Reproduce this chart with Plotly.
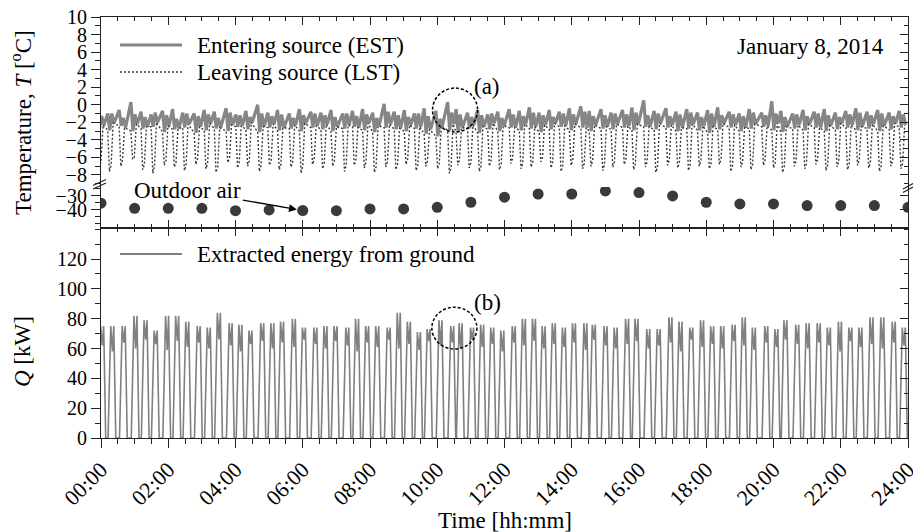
import plotly.graph_objects as go

# ---------------- data ----------------
# Heat-pump cycles: time of each pulse peak [h]
cycle_peak_h = [0.02, 0.32, 0.66, 1.01, 1.31, 1.61, 1.95, 2.25, 2.55, 2.89, 3.19, 3.49, 3.84, 4.13, 4.43, 4.78, 5.08, 5.37, 5.72, 6.02, 6.36,
                6.66, 6.96, 7.31, 7.60, 7.90, 8.20, 8.54, 8.84, 9.14, 9.44, 9.73, 10.08, 10.43, 10.68, 11.02, 11.32, 11.62, 11.92, 12.26, 12.56,
                12.86, 13.15, 13.45, 13.75, 14.05, 14.39, 14.64, 14.99, 15.29,
                15.63, 15.91, 16.26, 16.57, 16.92, 17.22, 17.54, 17.86, 18.16, 18.46, 18.80, 19.10, 19.40, 19.77, 20.07, 20.34, 20.69, 21.00,
                21.33, 21.63, 21.96, 22.27, 22.57, 22.90, 23.22, 23.56, 23.86]

# Extracted energy: peak and dip of each pulse [kW]
q_peak = [75, 75, 75, 82, 79, 72, 82, 82, 78, 75, 74, 84, 77, 76, 72, 77, 77, 78, 80, 74, 74,
          75, 75, 74, 80, 75, 75, 74, 84, 78, 71, 73, 79, 75, 77, 74, 76, 74, 72, 75, 80, 80, 75, 77, 74, 77, 77, 76, 75, 74,
          80, 80, 73, 73, 81, 78, 74, 79, 75, 75, 76, 81, 74, 75, 73, 79, 76, 77, 77, 74, 78, 74, 74, 81, 81, 78, 74]
q_dip = [62, 58, 64, 60, 66, 63, 59, 65, 61, 64, 60, 66, 62, 58, 63, 65, 60, 64, 61, 66, 63,
         60, 65, 62, 58, 64, 61, 66, 60, 63, 59, 65, 62, 64, 60, 66, 61, 63, 58, 64, 62, 65, 60, 63, 61, 64, 59, 66, 62, 60,
         63, 65, 60, 62, 64, 58, 66, 61, 63, 60, 65, 62, 59, 64, 61, 66, 63, 60, 64, 62, 58, 65, 61, 63, 60, 64, 62]

# Entering source temperature: four readings per cycle [degC]
est_a = [-0.9, -1.0, -0.6, 0.3, -0.8, -1.1, -0.7, -0.5, -0.9, -1.0, -0.6, -0.8, -0.4, -1.1, -0.7, 0.0, -0.9, -0.6, -1.0, -0.5, -0.8,
         -0.9, -0.6, -1.0, -0.7, -0.5, -0.9, 0.1, -0.8, -0.6, -1.0, -0.4, -0.7, 0.3, -0.5, -0.9, -0.6, -1.1, -0.8, -0.5, -0.7, -0.3,
         -0.9, -0.6, -0.8, -0.4, -0.2, -0.7, -0.5, -0.9,
         -0.6, -0.3, 0.5, -0.7, -0.4, -0.8, -0.5, -0.9, -0.6, -0.3, -0.8, -1.0, -0.5, -0.9, 0.4, -0.7, -1.0, -0.6, -0.8, -0.5, -0.9,
         -0.7, -0.4, -0.8, -0.6, -0.9, -0.7]
est_b = [-2.6, -2.9, -2.4, -3.0, -2.7, -2.5, -3.1, -2.8, -2.6, -3.2, -2.9, -2.7, -3.0, -2.5, -2.8, -3.1, -2.6, -2.9, -2.7, -3.0, -2.6,
         -2.8, -3.0, -2.7, -2.5, -2.9, -3.1, -2.6, -2.8, -3.0, -2.7, -3.3, -3.6, -2.9, -3.1, -2.7, -3.2, -2.8, -3.0, -2.6, -2.9, -2.7,
         -3.1, -2.8, -2.5, -2.9, -2.6, -3.0, -2.7, -2.8,
         -2.6, -2.9, -2.5, -2.8, -2.6, -3.0, -2.7, -2.9, -3.2, -2.8, -2.6, -3.0, -2.7, -2.5, -2.9, -3.1, -2.7, -2.9, -2.6, -3.0, -2.8,
         -2.6, -2.9, -2.7, -3.0, -2.8, -2.6]
est_c = [-1.3, -1.0, -1.5, -1.1, -1.4, -0.9, -1.2, -1.6, -1.0, -1.3, -1.1, -1.5, -0.9, -1.2, -1.4, -1.0, -1.3, -1.1, -1.5, -1.2, -1.0,
         -1.2, -1.4, -1.0, -1.3, -1.1, -1.5, -0.8, -1.2, -1.4, -1.0, -1.3, -1.6, -0.9, -1.1, -1.4, -1.2, -1.0, -1.5, -1.1, -1.3, -0.9,
         -1.2, -1.4, -1.0, -1.1, -0.8, -1.3, -1.2, -1.0,
         -1.1, -0.9, -1.2, -1.0, -1.3, -1.1, -0.9, -1.4, -1.0, -1.2, -1.1, -1.3, -0.9, -1.2, -1.0, -1.4, -1.1, -1.3, -1.0, -1.2, -1.4,
         -1.1, -0.9, -1.2, -1.0, -1.3, -1.1]
est_d = [-2.3, -2.1, -2.6, -2.2, -2.5, -2.0, -2.4, -2.7, -2.2, -2.5, -2.1, -2.6, -2.3, -2.4, -2.0, -2.5, -2.2, -2.6, -2.3, -2.1, -2.4,
         -2.2, -2.5, -2.3, -2.6, -2.1, -2.4, -2.2, -2.7, -2.3, -2.5, -2.8, -2.4, -2.2, -2.6, -2.3, -2.5, -2.1, -2.4, -2.6, -2.2, -2.5,
         -2.3, -2.1, -2.4, -2.2, -2.6, -2.3, -2.5, -2.2,
         -2.4, -2.2, -2.5, -2.1, -2.3, -2.6, -2.2, -2.4, -2.5, -2.1, -2.3, -2.6, -2.2, -2.4, -2.1, -2.5, -2.3, -2.2, -2.6, -2.4, -2.1,
         -2.3, -2.5, -2.2, -2.4, -2.1, -2.3]

# Leaving source temperature: two lowest readings per cycle [degC]
lst_min = [-7.2, -7.6, -7.0, -6.2, -7.4, -7.8, -6.9, -7.1, -7.5, -6.8, -7.3, -7.7, -6.6, -7.2, -7.0, -7.6, -6.9, -7.4, -7.1, -7.8, -6.8,
           -7.3, -7.0, -7.6, -6.9, -7.2, -7.7, -7.1, -7.4, -6.8, -7.5, -7.0, -7.3, -7.8, -6.9, -7.2, -7.6, -7.0, -7.4, -6.7, -7.3, -7.1,
           -6.5, -7.2, -7.6, -6.9, -7.3, -7.0, -7.5, -7.1,
           -6.8, -7.4, -7.1, -7.7, -6.9, -7.2, -7.5, -7.0, -7.3, -6.8, -7.6, -7.1, -7.4, -6.9, -7.2, -7.7, -7.0, -7.3, -6.8, -7.5, -7.1,
           -7.4, -6.9, -7.2, -7.6, -7.0, -7.3]
lst_min2 = [-6.5, -6.9, -6.3, -6.0, -6.8, -7.0, -6.4, -6.6, -6.9, -6.2, -6.7, -7.1, -6.1, -6.6, -6.4, -6.9, -6.3, -6.8, -6.5, -7.0, -6.2,
            -6.7, -6.4, -6.9, -6.3, -6.6, -7.1, -6.5, -6.8, -6.2, -6.9, -6.4, -6.7, -7.2, -6.3, -6.6, -7.0, -6.4, -6.8, -6.1, -6.7, -6.5,
            -6.0, -6.6, -7.0, -6.3, -6.7, -6.4, -6.9, -6.5,
            -6.2, -6.8, -6.5, -7.1, -6.3, -6.6, -6.9, -6.4, -6.7, -6.2, -7.0, -6.5, -6.8, -6.3, -6.6, -7.1, -6.4, -6.7, -6.2, -6.9, -6.5,
            -6.8, -6.3, -6.6, -7.0, -6.4, -6.7]

# Outdoor air temperature, hourly [degC]
outdoor_hour = [0, 1, 2, 3, 4, 5, 6, 7, 8, 9, 10, 11, 12, 13, 14, 15, 16, 17, 18, 19, 20, 21, 22, 23, 24]
outdoor_temp = [-35.2, -38.8, -38.8, -38.8, -40.5, -40.0, -40.4, -40.5, -39.3, -39.3, -38.1, -34.5, -30.9, -28.6, -28.6,
                -26.4, -27.6, -30.0, -34.5, -35.7, -35.7, -36.9, -36.9, -36.9, -38.1]

time_tickvals = [0, 2, 4, 6, 8, 10, 12, 14, 16, 18, 20, 22, 24]
time_ticktext = ["00:00", "02:00", "04:00", "06:00", "08:00", "10:00", "12:00",
                 "14:00", "16:00", "18:00", "20:00", "22:00", "24:00"]
q_ticks = [0, 20, 40, 60, 80, 100, 120]
t_ticks_upper = [-8, -6, -4, -2, 0, 2, 4, 6, 8, 10]
t_ticks_lower = [-30, -40]

# ---------------- build cycle polylines ----------------
def build(offsets, columns):
    xs, ys = [], []
    for row in zip(cycle_peak_h, *columns):
        p, vals = row[0], row[1:]
        for off, v in zip(offsets, vals):
            xs.append(p + off)
            ys.append(v)
    return xs, ys

zeros = [0] * len(q_peak)
q_x, q_y = build([-0.11, -0.03, 0.02, 0.06, 0.12, 0.18], [zeros, q_peak, q_dip, q_peak, zeros, zeros])
est_x, est_y = build([-0.12, -0.06, 0.0, 0.07], [est_a, est_b, est_c, est_d])
lst_x, lst_y = build([-0.12, -0.07, -0.02, 0.04], [est_b, lst_min, lst_min2, est_d])

# ---------------- figure ----------------
FONT = "Liberation Serif, Times New Roman, serif"
AX = "#222222"
W, H = 913, 532
L, R, T, B = 101, 5, 17, 94
PH = H - T - B  # 421
PW = W - L - R  # 807


def px(xp):
    return (xp - L) / PW


def py(yp):
    return (H - B - yp) / PH


d1 = py(228)
d2 = py(187)

fig = go.Figure()
fig.add_trace(go.Scatter(x=est_x, y=est_y, mode="lines", line=dict(color="#868686", width=3.2),
                         xaxis="x3", yaxis="y3", showlegend=False, hoverinfo="skip"))
fig.add_trace(go.Scatter(x=lst_x, y=lst_y, mode="lines", line=dict(color="#3a3a3a", width=1.4, dash="2px,2px"),
                         xaxis="x3", yaxis="y3", showlegend=False, hoverinfo="skip"))
fig.add_trace(go.Scatter(x=outdoor_hour, y=outdoor_temp, mode="markers",
                         marker=dict(size=11, color="#3a3a3a"), xaxis="x2", yaxis="y2", showlegend=False))
fig.add_trace(go.Scatter(x=q_x, y=q_y, mode="lines", line=dict(color="#808080", width=1.6),
                         xaxis="x", yaxis="y", showlegend=False, hoverinfo="skip"))
# invisible anchors so that the mirror axes get drawn
for xa, ya in [("x4", "y"), ("x", "y4"), ("x2", "y5"), ("x3", "y6")]:
    fig.add_trace(go.Scatter(x=[12], y=[-1e6], mode="markers", marker=dict(opacity=0),
                             xaxis=xa, yaxis=ya, showlegend=False, hoverinfo="skip"))

base = dict(showline=True, linecolor=AX, linewidth=1.2, showgrid=False, zeroline=False,
            tickcolor=AX, tickwidth=1.2, automargin=False)


def xax(**kw):
    d = dict(base)
    d.update(range=[0, 24], tickmode="array", tickvals=time_tickvals)
    d.update(kw)
    return d


YF = dict(size=20, family=FONT, color="black")
fig.update_layout(
    width=W, height=H, template="none",
    margin=dict(l=L, r=R, t=T, b=B),
    paper_bgcolor="white", plot_bgcolor="white",
    font=dict(family=FONT, color="black", size=20),
    xaxis=xax(anchor="y", domain=[0, 1], ticks="outside", ticklen=9, ticktext=time_ticktext,
              tickangle=-45, tickfont=dict(size=22, family=FONT, color="black"), ticklabeloverflow="allow",
              minor=dict(ticks="outside", ticklen=5, dtick=0.5, tick0=0, tickcolor=AX)),
    xaxis2=xax(anchor="y2", matches="x", side="bottom", ticks="inside", ticklen=8, showticklabels=False,
               minor=dict(ticks="inside", ticklen=4, dtick=0.5, tick0=0, tickcolor=AX)),
    xaxis3=xax(anchor="y3", matches="x", side="top", ticks="inside", ticklen=8, showticklabels=False,
               minor=dict(ticks="inside", ticklen=4, dtick=0.5, tick0=0, tickcolor=AX)),
    xaxis4=xax(anchor="y", overlaying="x", side="top", ticks="inside", ticklen=8, showticklabels=False,
               minor=dict(ticks="inside", ticklen=4, dtick=0.5, tick0=0, tickcolor=AX)),
    yaxis=dict(base, domain=[0, d1], range=[0, 140.8], anchor="x", tickmode="array", tickvals=q_ticks,
               ticks="outside", ticklen=9, tickfont=YF, ticklabeloverflow="allow",
               minor=dict(ticks="outside", ticklen=5, dtick=10, tick0=0, tickcolor=AX)),
    yaxis2=dict(base, domain=[d1, d2], range=[-52.9, -23.6], anchor="x2", tickmode="array",
                tickvals=t_ticks_lower, ticks="outside", ticklen=9, tickfont=YF, ticklabeloverflow="allow",
                minor=dict(ticks="outside", ticklen=5, tickmode="array", tickvals=[-25, -35, -45, -50], tickcolor=AX)),
    yaxis3=dict(base, domain=[d2, 1], range=[-9.37, 10], anchor="x3", tickmode="array",
                tickvals=t_ticks_upper, ticks="outside", ticklen=9, tickfont=YF, ticklabeloverflow="allow",
                minor=dict(ticks="outside", ticklen=5, dtick=1, tick0=0, tickcolor=AX)),
    yaxis4=dict(base, overlaying="y", side="right", anchor="x", range=[0, 140.8], tickmode="array",
                tickvals=q_ticks, ticks="inside", ticklen=8, showticklabels=False,
                minor=dict(ticks="inside", ticklen=4, dtick=10, tick0=0, tickcolor=AX)),
    yaxis5=dict(base, overlaying="y2", side="right", anchor="x2", range=[-52.9, -23.6], tickmode="array",
                tickvals=t_ticks_lower, ticks="inside", ticklen=8, showticklabels=False),
    yaxis6=dict(base, overlaying="y3", side="right", anchor="x3", range=[-9.37, 10], tickmode="array",
                tickvals=t_ticks_upper, ticks="inside", ticklen=8, showticklabels=False,
                minor=dict(ticks="inside", ticklen=4, dtick=1, tick0=0, tickcolor=AX)),
)

shapes = []
# legend samples
shapes.append(dict(type="line", xref="paper", yref="paper", x0=px(120), x1=px(182), y0=py(45), y1=py(45),
                   line=dict(color="#868686", width=3)))
shapes.append(dict(type="line", xref="paper", yref="paper", x0=px(120), x1=px(182), y0=py(72), y1=py(72),
                   line=dict(color="#3a3a3a", width=1.4, dash="2px,2px")))
shapes.append(dict(type="line", xref="paper", yref="paper", x0=px(120), x1=px(182), y0=py(254), y1=py(254),
                   line=dict(color="#808080", width=1.8)))
# axis break marks
for (xa, ya, xb, yb) in [(93, 189, 106, 183), (93, 185.5, 106, 179.5),
                         (903, 192.5, 913, 187), (903, 189, 913, 183.5)]:
    shapes.append(dict(type="line", xref="paper", yref="paper", x0=px(xa), y0=py(ya), x1=px(xb), y1=py(yb),
                       line=dict(color=AX, width=1.2)))
# dashed circles (a) and (b)
shapes.append(dict(type="circle", xref="x3", yref="y3", x0=9.86, x1=11.20, y0=-3.1, y1=1.9,
                   line=dict(color="black", width=1.5, dash="3px,2px")))
shapes.append(dict(type="circle", xref="x", yref="y", x0=9.84, x1=11.18, y0=59.7, y1=87.7,
                   line=dict(color="black", width=1.5, dash="3px,2px")))
fig.update_layout(shapes=shapes)

TF = dict(family=FONT, color="black", size=23)
ann = [
    dict(text="Entering source (EST)", x=px(195), y=py(45), xanchor="left", yanchor="middle"),
    dict(text="Leaving source (LST)", x=px(195), y=py(72), xanchor="left", yanchor="middle"),
    dict(text="Extracted energy from ground", x=px(195), y=py(254), xanchor="left", yanchor="middle"),
    dict(text="January 8, 2014", x=px(886), y=py(46), xanchor="right", yanchor="middle"),
    dict(text="(a)", x=px(487), y=py(86), xanchor="center", yanchor="middle"),
    dict(text="(b)", x=px(487), y=py(302), xanchor="center", yanchor="middle"),
    dict(text="Temperature, <i>T</i> [<sup>o</sup>C]", x=px(22), y=py(123), xanchor="center",
         yanchor="middle", textangle=-90),
    dict(text="<i>Q</i> [kW]", x=px(22), y=py(352), xanchor="center", yanchor="middle", textangle=-90),
    dict(text="Time [hh:mm]", x=px(505), y=py(520), xanchor="center", yanchor="middle"),
]
annotations = []
for a in ann:
    a.update(xref="paper", yref="paper", showarrow=False, font=TF)
    annotations.append(a)
# "Outdoor air" label with its arrow pointing at the 06:00 reading
annotations.append(dict(text="Outdoor air", x=6, y=-40.4, xref="x2", yref="y2", showarrow=True,
                        ax=-115, ay=-20, arrowhead=2, arrowsize=1.2, arrowwidth=1.3, arrowcolor="black",
                        standoff=6, font=TF))
fig.update_layout(annotations=annotations)

fig.write_html("out.html", config={"displayModeBar": False},
               post_script="document.body.style.margin='0px';document.body.style.padding='0px';"
                           "document.documentElement.style.overflow='hidden';")
